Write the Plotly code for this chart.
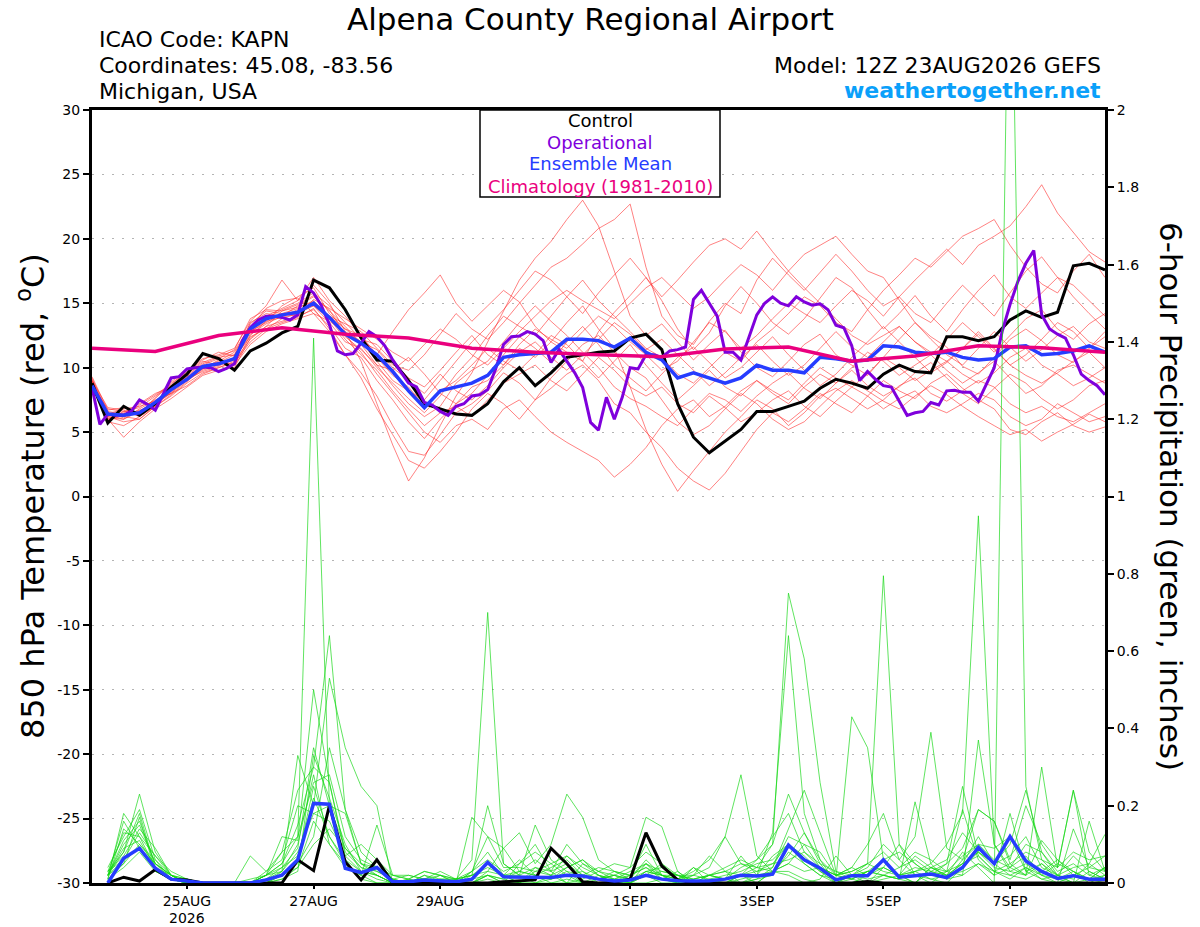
import pandas as pd
import plotly.graph_objects as go

# ---- text ----
title = "Alpena County Regional Airport"
info_left = ["ICAO Code: KAPN", "Coordinates: 45.08, -83.56", "Michigan, USA"]
model_text = "Model: 12Z 23AUG2026 GEFS"
site_text = "weathertogether.net"

# ---- time axes ----
t6 = pd.date_range("2026-08-23 12:00", periods=65, freq="6h")   # temperature
tp = pd.date_range("2026-08-23 18:00", periods=64, freq="6h")   # 6h precip
t3 = pd.date_range("2026-08-23 12:00", periods=129, freq="3h")  # operational
tclim = pd.date_range("2026-08-23 12:00", periods=17, freq="D")  # climatology

tick_dates = ["2026-08-25", "2026-08-27", "2026-08-29", "2026-09-01",
              "2026-09-03", "2026-09-05", "2026-09-07"]
tick_text = ["25AUG", "27AUG", "29AUG", "1SEP", "3SEP", "5SEP", "7SEP"]
year_text = "2026"

# ---- 850 hPa temperature (C) ----
control_t = [8.8, 5.7, 7.0, 6.3, 7.2, 8.5, 9.5, 11.1, 10.7, 9.8,
             11.3, 11.9, 12.7, 13.2, 16.8, 16.2, 14.5, 12.3, 10.6, 10.5,
             9.0, 7.2, 6.8, 6.4, 6.3, 7.2, 8.9, 10.0, 8.6, 9.6,
             10.8, 11.0, 11.2, 11.3, 12.3, 12.6, 11.4, 7.2, 4.6, 3.4,
             4.3, 5.2, 6.6, 6.6, 7.0, 7.4, 8.4, 9.1, 8.8, 8.4,
             9.5, 10.2, 9.7, 9.6, 12.4, 12.4, 12.1, 12.4, 13.7, 14.4,
             13.9, 14.3, 17.9, 18.1, 17.6]

mean_t = [8.6, 6.4, 6.3, 6.5, 7.3, 8.3, 9.1, 10.1, 10.3, 10.7,
          13.0, 13.8, 14.1, 14.3, 15.0, 13.9, 12.6, 11.9, 11.0, 9.7,
          8.2, 6.9, 8.2, 8.5, 8.8, 9.4, 10.8, 11.0, 11.1, 11.2,
          12.2, 12.2, 12.1, 11.6, 12.3, 11.2, 10.6, 9.2, 9.6, 9.2,
          8.8, 9.2, 10.2, 9.8, 9.8, 9.6, 10.8, 10.7, 10.5, 10.6,
          11.7, 11.6, 11.2, 11.1, 11.2, 10.8, 10.6, 10.7, 11.6, 11.7,
          11.0, 11.1, 11.3, 11.7, 11.2]

oper_t = [8.45, 5.6, 6.4, 6.3, 6.3, 6.65, 7.5, 7.15, 6.7, 7.9,
          9.2, 9.3, 9.9, 10.0, 10.05, 10.0, 9.7, 9.95, 10.3, 12.1,
          13.1, 13.7, 14.0, 14.0, 13.9, 13.7, 14.1, 16.3, 15.8, 14.8,
          13.35, 11.3, 11.0, 11.1, 11.9, 12.8, 12.4, 11.7, 10.6, 9.7,
          8.8, 8.5, 7.3, 7.1, 6.6, 6.3, 7.0, 7.2, 7.8, 7.9,
          8.3, 9.9, 11.8, 12.4, 12.45, 12.8, 12.6, 12.1, 10.4, 11.4,
          10.5, 9.6, 8.45, 5.75, 5.15, 7.7, 6.0, 7.7, 10.0, 9.9,
          11.0, 11.0, 10.8, 11.3, 11.4, 11.6, 15.3, 16.0, 15.0, 14.0,
          11.2, 11.2, 10.6, 12.3, 14.1, 15.0, 15.5, 15.0, 14.8, 15.5,
          15.1, 14.85, 14.95, 14.5, 13.3, 13.1, 11.7, 9.0, 9.7, 9.1,
          8.6, 8.5, 7.4, 6.3, 6.5, 6.6, 7.3, 7.1, 8.2, 8.25,
          8.1, 8.1, 7.4, 8.7, 10.0, 12.8, 14.9, 16.7, 18.1, 19.1,
          14.1, 13.0, 12.6, 12.3, 11.0, 9.5, 9.0, 8.6, 7.9]

clim_t = [11.5, 11.25, 12.5, 13.1, 12.6, 12.3, 11.5, 11.2, 11.0,
          10.85, 11.45, 11.6, 10.5, 10.9, 11.7, 11.55, 11.2]

temp_m01 = [9.0, 6.0, 6.6, 6.9, 7.8, 8.6, 9.5, 10.4, 10.9, 11.3,
            13.2, 14.0, 14.6, 15.2, 16.4, 15.0, 12.8, 10.5, 7.2, 4.0,
            1.2, 3.0, 5.5, 7.8, 9.6, 12.0, 14.5, 16.8, 18.5, 19.8,
            21.5, 23.0, 21.0, 17.5, 14.0, 12.5, 13.4, 12.0, 10.6, 11.8,
            12.9, 11.2, 10.0, 9.3, 10.5, 11.8, 12.6, 11.0, 10.2, 9.4,
            10.8, 12.2, 13.5, 12.4, 11.6, 10.1, 9.5, 10.8, 12.2, 13.0,
            12.1, 11.0, 10.4, 11.5, 12.8]
temp_m02 = [8.7, 6.3, 6.0, 6.8, 7.5, 8.0, 9.3, 9.9, 10.6, 10.2,
            12.5, 13.6, 14.8, 15.5, 16.2, 14.2, 13.0, 12.5, 11.0, 12.8,
            14.5, 15.8, 17.2, 15.0, 13.6, 14.8, 16.0, 15.1, 13.2, 12.0,
            11.2, 10.5, 12.8, 14.3, 15.6, 17.0, 15.2, 13.0, 11.4, 12.7,
            14.8, 16.3, 15.0, 13.5, 12.6, 13.8, 15.4, 17.0, 16.2, 14.5,
            13.0, 14.2, 15.6, 14.0, 12.8, 14.5, 16.0, 17.2, 15.5, 14.6,
            15.8, 17.0, 16.4, 15.2, 14.0]
temp_m03 = [9.2, 6.5, 6.2, 6.0, 7.0, 8.4, 9.0, 10.0, 10.4, 11.0,
            12.8, 13.5, 14.2, 14.6, 15.2, 14.0, 13.4, 12.8, 11.5, 10.2,
            9.8, 11.0, 12.6, 14.2, 13.0, 12.2, 13.5, 15.0, 16.4, 17.8,
            18.5, 19.6, 20.8, 21.5, 22.7, 17.8, 14.0, 12.5, 11.8, 13.6,
            15.0, 14.2, 16.8, 18.5, 17.2, 16.0, 17.4, 18.8, 17.5, 16.0,
            14.8, 15.5, 14.2, 13.5, 15.0, 16.4, 15.2, 14.0, 15.8, 17.5,
            18.6, 17.0, 15.5, 14.2, 13.0]
temp_m04 = [8.9, 5.8, 5.5, 6.2, 7.0, 7.8, 8.8, 9.6, 10.0, 10.5,
            12.2, 13.2, 13.6, 14.0, 14.5, 13.2, 11.5, 10.8, 9.0, 7.5,
            5.8, 4.5, 6.0, 7.2, 8.5, 9.0, 10.2, 11.5, 10.8, 12.0,
            13.5, 14.8, 13.0, 11.5, 8.5, 5.2, 2.5, 0.4, 2.0, 3.5,
            5.0, 6.2, 7.5, 6.8, 5.5, 6.5, 7.8, 8.4, 7.6, 6.8,
            7.5, 8.6, 9.2, 8.0, 7.4, 8.2, 9.0, 8.5, 7.2, 6.5,
            7.0, 6.2, 5.8, 6.5, 7.2]
temp_m05 = [8.5, 6.0, 4.6, 5.8, 6.8, 7.6, 8.5, 9.4, 9.8, 10.2,
            11.8, 12.8, 13.4, 13.8, 14.2, 12.8, 11.0, 9.6, 7.8, 5.5,
            3.5, 3.2, 4.8, 6.5, 7.2, 8.2, 9.6, 8.8, 7.5, 8.4,
            9.5, 10.2, 9.0, 7.2, 6.5, 5.0, 3.8, 2.2, 1.2, 0.5,
            1.8, 3.5, 5.2, 6.5, 5.8, 6.8, 8.0, 7.2, 6.5, 7.8,
            9.0, 8.2, 7.6, 8.8, 9.5, 8.4, 7.5, 6.8, 5.2, 4.8,
            5.8, 6.5, 5.5, 5.0, 5.4]
temp_m06 = [8.8, 6.6, 6.4, 6.5, 7.6, 8.8, 9.6, 10.5, 10.2, 10.8,
            13.5, 14.2, 14.0, 14.8, 15.5, 14.5, 12.5, 11.2, 9.5, 8.0,
            6.5, 5.0, 4.2, 5.5, 6.0, 5.2, 6.8, 7.5, 6.2, 5.0,
            4.2, 3.5, 2.8, 1.5, 2.5, 3.8, 5.5, 6.8, 7.5, 6.2,
            7.0, 8.2, 9.0, 8.0, 7.2, 8.5, 9.5, 8.8, 10.0, 11.2,
            10.5, 9.4, 10.2, 11.0, 9.8, 8.8, 9.6, 10.5, 9.2, 8.0,
            8.6, 9.8, 10.2, 9.5, 8.8]
temp_m07 = [9.1, 6.2, 6.5, 7.2, 8.0, 8.5, 9.2, 10.0, 10.5, 11.2,
            13.0, 13.8, 14.5, 15.0, 15.8, 14.8, 13.5, 12.2, 11.8, 10.5,
            9.2, 8.5, 9.8, 11.2, 12.5, 11.0, 10.2, 11.8, 13.0, 12.2,
            11.5, 12.8, 14.0, 13.2, 12.0, 11.0, 9.8, 10.5, 12.0, 13.5,
            12.8, 11.5, 12.5, 13.8, 15.0, 14.2, 13.5, 14.8, 16.0, 15.2,
            14.0, 15.5, 16.8, 18.0, 19.2, 18.0, 19.5, 20.2, 21.0, 22.5,
            24.2, 22.0, 20.5, 19.0, 18.2]
temp_m08 = [8.6, 6.8, 6.6, 6.3, 7.2, 8.2, 9.0, 9.8, 10.2, 10.6,
            12.6, 13.4, 14.0, 14.5, 14.8, 13.5, 12.0, 11.5, 10.0, 8.8,
            7.6, 6.5, 7.8, 9.5, 10.8, 12.5, 14.0, 13.2, 12.5, 14.0,
            15.5, 16.8, 15.2, 14.0, 12.8, 11.5, 10.8, 9.5, 8.8, 10.0,
            11.2, 10.5, 12.0, 13.0, 14.2, 15.5, 14.8, 13.5, 12.8, 14.5,
            16.0, 17.2, 18.5, 17.8, 19.0, 20.2, 20.8, 21.5, 19.5, 17.8,
            16.5, 15.8, 17.5, 18.8, 17.0]
temp_m09 = [9.0, 6.4, 6.8, 7.0, 7.4, 8.0, 8.6, 9.5, 10.0, 10.4,
            12.0, 13.0, 13.8, 14.2, 15.0, 14.0, 13.0, 12.0, 10.5, 9.0,
            8.2, 7.5, 9.0, 10.5, 12.0, 13.2, 14.5, 16.0, 17.5, 16.8,
            15.5, 14.2, 15.8, 17.2, 18.5, 17.0, 15.5, 16.8, 18.2, 19.5,
            20.0, 19.2, 20.6, 19.0, 17.5, 16.2, 15.0, 13.8, 12.5, 11.8,
            12.5, 13.2, 12.0, 11.2, 10.5, 11.5, 12.8, 11.5, 10.2, 11.0,
            12.2, 13.5, 12.8, 11.5, 12.4]
temp_m10 = [8.4, 6.1, 6.0, 6.6, 7.3, 8.3, 9.4, 10.3, 10.8, 11.0,
            13.4, 14.4, 14.2, 14.0, 15.3, 14.6, 13.8, 13.0, 12.2, 11.2,
            10.5, 11.8, 13.0, 12.2, 11.0, 10.2, 11.5, 12.8, 14.0, 15.2,
            16.0, 15.2, 14.5, 13.8, 15.0, 16.2, 17.0, 15.8, 14.6, 15.5,
            16.8, 18.0, 17.2, 16.0, 17.5, 18.8, 19.5, 20.2, 18.8, 17.5,
            17.0, 15.2, 13.5, 12.2, 11.0, 10.2, 11.5, 12.8, 11.6, 10.5,
            11.4, 12.5, 13.2, 12.0, 11.5]
temp_m11 = [8.7, 6.2, 5.8, 6.0, 7.0, 7.9, 8.9, 10.0, 10.3, 10.6,
            12.8, 13.6, 13.9, 14.2, 14.8, 13.8, 12.2, 11.0, 9.8, 8.2,
            6.8, 5.5, 6.5, 7.0, 6.2, 7.5, 8.8, 9.5, 10.2, 9.0,
            8.2, 9.5, 10.8, 9.8, 8.5, 7.8, 8.5, 7.2, 6.5, 7.8,
            6.9, 5.8, 6.5, 7.5, 8.2, 7.0, 6.2, 7.4, 8.5, 7.8,
            6.8, 7.6, 8.2, 7.0, 6.5, 7.2, 8.0, 7.5, 6.2, 5.5,
            6.0, 7.2, 6.5, 5.8, 6.2]
temp_m12 = [9.3, 6.7, 6.9, 6.4, 7.7, 8.9, 9.8, 10.7, 11.0, 11.5,
            13.6, 14.8, 16.8, 15.2, 17.0, 15.2, 14.0, 12.5, 10.8, 9.4,
            8.5, 7.0, 8.2, 9.0, 10.2, 11.5, 10.5, 9.8, 11.0, 12.5,
            11.8, 10.5, 9.2, 10.5, 11.8, 10.2, 8.8, 7.5, 8.6, 9.8,
            8.5, 7.8, 9.0, 8.2, 7.5, 8.8, 10.0, 9.2, 8.5, 9.5,
            10.8, 10.0, 9.0, 9.8, 10.5, 9.5, 8.8, 9.6, 10.8, 11.5,
            10.2, 9.5, 8.6, 9.2, 10.0]
temp_m13 = [8.5, 5.9, 6.3, 6.7, 7.1, 8.1, 9.1, 9.7, 10.1, 10.8,
            12.4, 13.0, 13.5, 13.9, 14.6, 13.0, 11.0, 9.2, 6.8, 4.8,
            2.8, 2.2, 3.5, 5.0, 6.8, 8.0, 7.2, 6.0, 7.5, 9.2,
            10.5, 11.8, 12.5, 11.2, 10.0, 9.2, 7.5, 5.8, 4.8, 5.5,
            6.8, 8.0, 7.2, 6.0, 5.2, 5.8, 7.0, 8.2, 9.0, 8.2,
            7.4, 6.8, 7.8, 8.6, 7.9, 7.0, 6.2, 5.5, 4.8, 5.2,
            4.3, 5.0, 5.6, 6.4, 5.8]
temp_m14 = [8.9, 6.5, 6.1, 7.1, 7.9, 8.7, 9.7, 10.6, 11.2, 10.9,
            13.1, 14.6, 15.2, 15.4, 14.2, 13.6, 12.8, 12.0, 11.4, 10.0,
            9.0, 8.0, 9.5, 8.2, 7.5, 8.6, 10.0, 11.2, 12.0, 10.8,
            9.8, 11.0, 12.2, 13.5, 12.6, 11.4, 12.2, 11.0, 9.8, 8.6,
            9.6, 10.8, 11.8, 10.5, 9.4, 10.2, 11.5, 12.8, 11.6, 10.8,
            12.0, 13.2, 12.0, 11.0, 12.2, 13.5, 12.4, 11.2, 12.5, 13.8,
            14.5, 13.0, 12.2, 13.4, 14.2]
temp_m15 = [8.6, 6.0, 6.4, 6.6, 7.4, 8.4, 9.3, 10.2, 10.7, 11.4,
            13.8, 14.5, 14.4, 14.9, 15.6, 14.4, 13.2, 11.8, 10.2, 9.8,
            10.8, 9.5, 8.0, 7.2, 8.0, 9.4, 11.0, 12.4, 11.5, 10.4,
            12.0, 13.2, 11.8, 10.2, 9.2, 8.2, 9.5, 10.8, 11.6, 10.4,
            9.2, 10.0, 11.2, 12.4, 11.0, 9.8, 8.6, 9.5, 10.8, 12.0,
            13.2, 12.0, 10.8, 9.6, 10.4, 11.5, 12.6, 11.4, 10.2, 9.4,
            8.8, 9.6, 10.5, 11.2, 10.0]
temp_m16 = [9.0, 6.9, 6.7, 6.2, 7.2, 8.0, 9.0, 9.9, 10.4, 10.0,
            12.3, 13.2, 14.4, 14.7, 15.1, 13.9, 12.4, 11.4, 10.2, 8.6,
            7.2, 6.2, 7.0, 8.8, 9.8, 10.5, 12.0, 13.5, 14.8, 13.6,
            12.5, 11.2, 10.0, 8.5, 7.6, 7.0, 6.2, 5.5, 6.8, 8.0,
            7.5, 6.6, 7.8, 8.8, 9.6, 8.4, 7.6, 8.8, 9.8, 8.6,
            7.8, 8.5, 9.6, 10.4, 9.2, 8.0, 7.2, 8.4, 9.5, 8.8,
            7.6, 6.8, 7.5, 8.6, 9.0]

temp_members = [temp_m01, temp_m02, temp_m03, temp_m04, temp_m05, temp_m06,
                temp_m07, temp_m08, temp_m09, temp_m10, temp_m11, temp_m12,
                temp_m13, temp_m14, temp_m15, temp_m16]

# ---- 6-hour precipitation (inches) ----
control_p = [0, 0.015, 0.005, 0.035, 0.01, 0.008, 0, 0,
             0, 0, 0, 0, 0.06, 0.032, 0.2, 0.055,
             0.008, 0.06, 0, 0, 0, 0, 0, 0,
             0, 0.003, 0.005, 0.008, 0.09, 0.05, 0.003, 0,
             0.002, 0.01, 0.13, 0.044, 0.008, 0, 0, 0,
             0, 0, 0, 0, 0, 0, 0, 0,
             0.004, 0, 0, 0, 0, 0, 0, 0,
             0, 0, 0, 0, 0, 0, 0, 0]

mean_p = [0, 0.064, 0.09, 0.038, 0.01, 0.006, 0, 0,
          0, 0, 0.008, 0.02, 0.06, 0.206, 0.204, 0.038,
          0.027, 0.04, 0.003, 0.003, 0.008, 0.005, 0.003, 0.01,
          0.053, 0.016, 0.016, 0.015, 0.014, 0.02, 0.018, 0.01,
          0.005, 0.008, 0.02, 0.01, 0.006, 0.005, 0.006, 0.01,
          0.02, 0.018, 0.023, 0.098, 0.06, 0.038, 0.008, 0.019,
          0.019, 0.06, 0.015, 0.019, 0.023, 0.014, 0.04, 0.092,
          0.05, 0.12, 0.057, 0.03, 0.012, 0.019, 0.01, 0.01]

precip_m01 = [0.02, 0.10, 0.15, 0.05, 0.01, 0, 0, 0,
              0, 0, 0.02, 0.05, 0.12, 1.41, 0.20, 0.05,
              0.02, 0, 0, 0, 0.01, 0.02, 0, 0.03,
              0.08, 0.02, 0, 0, 0.02, 0.07, 0.03, 0,
              0, 0, 0.02, 0.05, 0.01, 0, 0, 0,
              0.02, 0.06, 0.10, 0.23, 0.13, 0.05, 0, 0.02,
              0, 0.04, 0.02, 0, 0.03, 0.01, 0.06, 0.19,
              0.16, 0.05, 0.02, 0.11, 0.06, 0.03, 0, 0.02]
precip_m02 = [0.01, 0.18, 0.12, 0.04, 0.02, 0.01, 0, 0,
              0, 0.07, 0.03, 0.08, 0.24, 0.30, 0.64, 0.19,
              0.05, 0.02, 0, 0.01, 0, 0.01, 0.01, 0.02,
              0.20, 0.05, 0.02, 0.15, 0.06, 0.03, 0, 0.02,
              0.01, 0, 0.05, 0.02, 0, 0.02, 0.07, 0.03,
              0, 0.01, 0.04, 0.14, 0.24, 0.13, 0.02, 0.04,
              0.10, 0.18, 0.06, 0.02, 0, 0.03, 0.19, 0.06,
              0.02, 0.18, 0.03, 0.01, 0, 0.14, 0.04, 0.07]
precip_m03 = [0.03, 0.08, 0.23, 0.08, 0.02, 0, 0, 0,
              0, 0, 0.02, 0.12, 0.11, 0.50, 0.26, 0.07,
              0.10, 0.06, 0.01, 0, 0.02, 0.01, 0, 0.17,
              0.12, 0.09, 0.13, 0.05, 0.10, 0.23, 0.17, 0.06,
              0.03, 0.02, 0.10, 0.02, 0, 0, 0.02, 0.01,
              0.07, 0.02, 0.13, 0.64, 0.18, 0.06, 0, 0.01,
              0.03, 0.06, 0.02, 0.07, 0.04, 0.02, 0.05, 0.12,
              0.05, 0.10, 0.24, 0.08, 0.02, 0, 0.16, 0.03]
precip_m04 = [0.04, 0.12, 0.19, 0.06, 0.01, 0, 0, 0,
              0, 0, 0, 0.03, 0.33, 0.20, 0.53, 0.35,
              0.25, 0.20, 0, 0, 0, 0, 0, 0,
              0.02, 0, 0.05, 0.10, 0.03, 0, 0.01, 0.03,
              0.05, 0.04, 0.17, 0.146, 0.03, 0, 0, 0.01,
              0, 0.02, 0.03, 0.02, 0, 0.01, 0.07, 0.02,
              0.01, 0.02, 0.01, 0.21, 0.05, 0.01, 0.02, 0.37,
              0.10, 0.03, 0.02, 0.30, 0.04, 0.24, 0.02, 0.01]
precip_m05 = [0.02, 0.05, 0.17, 0.03, 0.01, 0, 0, 0,
              0, 0, 0.01, 0.02, 0.06, 0.25, 0.12, 0.05,
              0.02, 0.15, 0.02, 0.01, 0.03, 0.02, 0.01, 0.06,
              0.70, 0.05, 0.02, 0, 0.01, 0.04, 0.06, 0.02,
              0, 0.02, 0.05, 0.01, 0, 0.04, 0, 0,
              0, 0.01, 0.02, 0.08, 0.05, 0.02, 0, 0,
              0.02, 0.04, 0.10, 0.05, 0.02, 0.05, 0.25, 0.07,
              0.03, 0.01, 0.04, 0.01, 0.02, 0.01, 0.05, 0.126]
precip_m06 = [0.01, 0.14, 0.10, 0.05, 0.02, 0, 0, 0,
              0, 0, 0.03, 0.06, 0.20, 0.18, 0.20, 0.18,
              0.05, 0.03, 0.01, 0, 0, 0, 0, 0,
              0.03, 0.02, 0.06, 0.02, 0.01, 0.02, 0.03, 0.01,
              0.02, 0, 0.03, 0.02, 0.01, 0.04, 0.02, 0.03,
              0.05, 0.04, 0.10, 0.75, 0.58, 0.26, 0.03, 0.01,
              0, 0.01, 0.02, 0.03, 0.01, 0, 0.04, 0.08,
              0.05, 0.02, 0.01, 0.03, 0.06, 0.02, 0.01, 0.04]
precip_m07 = [0.03, 0.06, 0.13, 0.07, 0.03, 0.01, 0, 0,
              0, 0, 0.02, 0.03, 0.10, 0.28, 0.10, 0.04,
              0.02, 0.06, 0.02, 0.02, 0.01, 0.03, 0.01, 0.02,
              0.05, 0.02, 0.03, 0.06, 0.03, 0.10, 0.05, 0.03,
              0.01, 0.02, 0.04, 0.01, 0, 0.01, 0.02, 0.01,
              0.02, 0.03, 0.05, 0.10, 0.07, 0.03, 0.01, 0.02,
              0.05, 0.795, 0.10, 0.02, 0.01, 0.02, 0.03, 0.05,
              0.02, 0.04, 0.07, 0.02, 0.01, 0.03, 0.01, 0.02]
precip_m08 = [0.02, 0.09, 0.11, 0.04, 0.01, 0, 0, 0,
              0, 0, 0, 0.02, 0.05, 0.12, 0.35, 0.19,
              0.08, 0.04, 0, 0, 0.02, 0, 0, 0.01,
              0.02, 0.01, 0, 0.03, 0.05, 0.02, 0, 0.01,
              0.03, 0.01, 0.06, 0.02, 0.01, 0.02, 0.04, 0.12,
              0.05, 0.03, 0.04, 0.12, 0.10, 0.04, 0.02, 0.01,
              0.03, 0.02, 0.01, 0.03, 0.05, 0.10, 0.18, 0.95,
              0.10, 0.04, 0.02, 0.05, 0.01, 0, 0.03, 0.01]
precip_m09 = [0.01, 0.04, 0.08, 0.03, 0.01, 0, 0, 0,
              0, 0, 0, 0.01, 0.03, 0.33, 0.22, 0.10,
              0.03, 0.01, 0, 0, 0, 0, 0, 0,
              0.02, 0, 0, 0, 0, 0, 0, 0,
              0, 0, 0.02, 0, 0, 0, 0, 0,
              0, 0, 0.03, 0.03, 0.01, 0, 0, 0,
              0, 0.02, 0.01, 0, 0.04, 0.02, 0.08, 0.04,
              0, 2.70, 0.25, 0.06, 0.02, 0, 0.01, 0.04]
precip_m10 = [0.02, 0.16, 0.09, 0.04, 0.01, 0.01, 0, 0,
              0, 0, 0.01, 0.04, 0.07, 0.22, 0.12, 0.06,
              0.03, 0.02, 0, 0.01, 0, 0.02, 0, 0.02,
              0.04, 0.02, 0.02, 0.04, 0.03, 0.05, 0.02, 0.01,
              0.02, 0.01, 0.03, 0.02, 0.02, 0, 0.01, 0.02,
              0.03, 0.05, 0.06, 0.10, 0.05, 0.02, 0.01, 0.43,
              0.35, 0.06, 0.02, 0.04, 0.03, 0.02, 0.05, 0.08,
              0.04, 0.03, 0.05, 0.02, 0, 0.02, 0.04, 0.03]
precip_m11 = [0.03, 0.07, 0.14, 0.09, 0.02, 0, 0, 0,
              0, 0.01, 0.02, 0.05, 0.15, 0.30, 0.26, 0.08,
              0.04, 0.03, 0.01, 0, 0.01, 0, 0, 0.03,
              0.06, 0.03, 0.05, 0.08, 0.05, 0.07, 0.04, 0.02,
              0.01, 0.03, 0.05, 0.03, 0.02, 0.02, 0.01, 0,
              0.01, 0.02, 0.07, 0.10, 0.06, 0.03, 0, 0.02,
              0.04, 0.10, 0.06, 0.12, 0.39, 0.09, 0.06, 0.10,
              0.06, 0.04, 0.10, 0.08, 0.03, 0.05, 0.02, 0.04]
precip_m12 = [0.02, 0.11, 0.16, 0.05, 0.02, 0.01, 0, 0,
              0, 0, 0.01, 0.03, 0.08, 0.18, 0.16, 0.07,
              0.03, 0.02, 0, 0, 0, 0.01, 0.01, 0,
              0.02, 0.01, 0.03, 0.02, 0.01, 0.03, 0.02, 0.04,
              0.03, 0.02, 0.04, 0.02, 0.01, 0.03, 0.06, 0.12,
              0.28, 0.07, 0.03, 0.07, 0.13, 0.06, 0.02, 0.04,
              0.02, 0.06, 0.08, 0.05, 0.02, 0.03, 0.07, 0.10,
              0.09, 0.12, 0.03, 0.05, 0.02, 0.07, 0.03, 0.01]
precip_m13 = [0.01, 0.05, 0.10, 0.06, 0.02, 0, 0, 0,
              0, 0, 0.02, 0.08, 0.12, 0.26, 0.28, 0.12,
              0.06, 0.04, 0.01, 0.02, 0.01, 0, 0.01, 0.02,
              0.03, 0.09, 0.03, 0.02, 0.04, 0.06, 0.02, 0.01,
              0.02, 0.04, 0.08, 0.05, 0.02, 0.01, 0.02, 0.03,
              0.02, 0.04, 0.05, 0.06, 0.08, 0.04, 0.02, 0.03,
              0.05, 0.08, 0.04, 0.06, 0.03, 0.05, 0.09, 0.19,
              0.16, 0.06, 0.20, 0.10, 0.04, 0.08, 0.06, 0.07]
precip_m14 = [0.03, 0.13, 0.12, 0.07, 0.02, 0, 0, 0,
              0, 0, 0, 0.02, 0.04, 0.10, 0.14, 0.09,
              0.04, 0.02, 0, 0, 0, 0, 0, 0.01,
              0.05, 0.02, 0, 0.04, 0.02, 0, 0.05, 0.02,
              0, 0, 0.03, 0.04, 0.02, 0, 0.02, 0.01,
              0.04, 0.06, 0.12, 0.18, 0.08, 0.05, 0.03, 0.02,
              0.03, 0.04, 0.02, 0.03, 0.04, 0.06, 0.13, 0.08,
              0.05, 0.07, 0.12, 0.04, 0.02, 0.04, 0.05, 0.02]
precip_m15 = [0.02, 0.08, 0.18, 0.04, 0.01, 0, 0, 0,
              0, 0, 0.02, 0.04, 0.09, 0.35, 0.20, 0.09,
              0.05, 0.04, 0.02, 0.01, 0.03, 0.02, 0.01, 0.03,
              0.12, 0.04, 0.04, 0.03, 0.02, 0.04, 0.06, 0.03,
              0.02, 0.01, 0.02, 0.03, 0.02, 0.01, 0.02, 0.04,
              0.06, 0.04, 0.03, 0.05, 0.10, 0.08, 0.02, 0.01,
              0.03, 0.02, 0.04, 0.08, 0.06, 0.03, 0.05, 0.07,
              0.03, 0.05, 0.08, 0.06, 0.04, 0.24, 0.08, 0.03]
precip_m16 = [0.02, 0.06, 0.09, 0.05, 0.02, 0, 0, 0,
              0, 0, 0, 0.01, 0.04, 0.16, 0.10, 0.05,
              0.01, 0, 0, 0, 0, 0, 0, 0,
              0.01, 0, 0, 0.02, 0, 0.01, 0, 0,
              0, 0, 0, 0.01, 0.03, 0, 0, 0,
              0.02, 0, 0.03, 0.05, 0.03, 0.04, 0.02, 0.03,
              0.05, 0.03, 0.02, 0, 0.04, 0.03, 0.02, 0.05,
              0.03, 0.02, 0.04, 0.02, 0.05, 0.03, 0.01, 0]

precip_members = [precip_m01, precip_m02, precip_m03, precip_m04, precip_m05,
                  precip_m06, precip_m07, precip_m08, precip_m09, precip_m10,
                  precip_m11, precip_m12, precip_m13, precip_m14, precip_m15,
                  precip_m16]

# ---- colours ----
RED = "rgba(255,45,45,0.75)"
GREEN = "rgba(20,215,20,0.85)"
PURPLE = "#7f00dc"
BLUE = "#263cff"
PINK = "#ea007e"
FONT = "DejaVu Sans"

# plot area in pixels: x 92..1105, y 110..883
L, R, T, B = 92, 1105, 110, 883


def px(x):
    return (x - L) / (R - L)


def py(y):
    return (B - y) / (B - T)


fig = go.Figure()

for m in temp_members:
    fig.add_trace(go.Scatter(x=t6, y=m, mode="lines",
                             line=dict(color=RED, width=0.8), hoverinfo="skip"))

fig.add_trace(go.Scatter(x=t6, y=control_t, mode="lines", line=dict(color="black", width=3)))
fig.add_trace(go.Scatter(x=t3, y=oper_t, mode="lines", line=dict(color=PURPLE, width=3)))
fig.add_trace(go.Scatter(x=t6, y=mean_t, mode="lines", line=dict(color=BLUE, width=3.5)))
fig.add_trace(go.Scatter(x=tclim, y=clim_t, mode="lines", line=dict(color=PINK, width=3.5)))

for m in precip_members:
    fig.add_trace(go.Scatter(x=tp, y=m, mode="lines", yaxis="y2",
                             line=dict(color=GREEN, width=0.8), hoverinfo="skip"))
fig.add_trace(go.Scatter(x=tp, y=control_p, mode="lines", yaxis="y2",
                         line=dict(color="black", width=3)))
fig.add_trace(go.Scatter(x=tp, y=mean_p, mode="lines", yaxis="y2",
                         line=dict(color=BLUE, width=3.5)))

temp_ticks = list(range(-30, 31, 5))

fig.update_layout(
    width=1200, height=927,
    margin=dict(l=L, r=1200 - R, t=T, b=927 - B, autoexpand=False),
    paper_bgcolor="white", plot_bgcolor="white",
    showlegend=False,
    font=dict(family=FONT, color="black"),
    xaxis=dict(type="date", range=[t6[0], t6[-1]],
               tickvals=tick_dates, ticktext=tick_text,
               ticks="outside", ticklen=3, tickwidth=1.5, tickcolor="black",
               tickfont=dict(size=14), automargin=False,
               showline=True, linewidth=3, linecolor="black", mirror=True,
               showgrid=False, zeroline=False),
    yaxis=dict(range=[-30, 30], tickvals=temp_ticks, ticktext=[str(v) for v in temp_ticks],
               ticks="outside", ticklen=6, tickwidth=1.5, tickcolor="black",
               tickfont=dict(size=14), automargin=False,
               showline=True, linewidth=3, linecolor="black", mirror=True,
               showgrid=True, gridcolor="#b4b4b4", gridwidth=1.2, griddash="2px,8px",
               zeroline=False),
    yaxis2=dict(range=[0, 2], overlaying="y", side="right", tick0=0, dtick=0.2,
                ticks="outside", ticklen=6, tickwidth=1.5, tickcolor="black",
                tickfont=dict(size=14), automargin=False,
                showline=True, linewidth=3, linecolor="black",
                showgrid=False, zeroline=False),
)

# year under the first date label
fig.add_annotation(x=tick_dates[0], y=py(918), xref="x", yref="paper", text=year_text,
                   showarrow=False, xanchor="center", yanchor="middle",
                   font=dict(size=14, family=FONT))

# legend box
fig.add_shape(type="rect", xref="paper", yref="paper",
              x0=px(480), x1=px(720), y0=py(197), y1=py(110),
              line=dict(color="black", width=1.5), fillcolor="white", layer="above")

legend_items = [("Control", "black", 121), ("Operational", PURPLE, 142),
                ("Ensemble Mean", BLUE, 163), ("Climatology (1981-2010)", PINK, 186)]
for text, color, y in legend_items:
    fig.add_annotation(x=px(600), y=py(y), xref="paper", yref="paper", text=text,
                       showarrow=False, xanchor="center", yanchor="middle",
                       font=dict(size=18, color=color, family=FONT))

# titles and header text
fig.add_annotation(x=px(590), y=py(19), xref="paper", yref="paper", text=title,
                   showarrow=False, xanchor="center", yanchor="middle",
                   font=dict(size=31, family=FONT))
for text, y in zip(info_left, [40, 66, 92]):
    fig.add_annotation(x=px(97), y=py(y), xref="paper", yref="paper", text=text,
                       showarrow=False, xanchor="left", yanchor="middle",
                       font=dict(size=22, family=FONT))
fig.add_annotation(x=px(1103), y=py(66), xref="paper", yref="paper", text=model_text,
                   showarrow=False, xanchor="right", yanchor="middle",
                   font=dict(size=22, family=FONT))
fig.add_annotation(x=px(1103), y=py(90), xref="paper", yref="paper",
                   text="<b>" + site_text + "</b>",
                   showarrow=False, xanchor="right", yanchor="middle",
                   font=dict(size=22, family=FONT, color="#0aa0fa"))

# axis titles
fig.add_annotation(x=px(31), y=py(496), xref="paper", yref="paper",
                   text="850 hPa Temperature (red, <sup>o</sup>C)",
                   showarrow=False, textangle=-90, xanchor="center", yanchor="middle",
                   font=dict(size=32, family=FONT))
fig.add_annotation(x=px(1171), y=py(496), xref="paper", yref="paper",
                   text="6-hour Precipitation (green, inches)",
                   showarrow=False, textangle=90, xanchor="center", yanchor="middle",
                   font=dict(size=31, family=FONT))

fig.write_html("out.html", config={"displayModeBar": False},
               post_script="document.body.style.margin='0px';")
